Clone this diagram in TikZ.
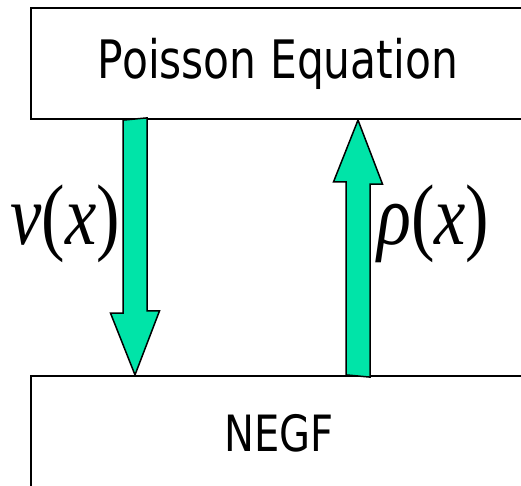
\documentclass[tikz,border=0pt]{standalone}
\usepackage{fontspec}
\usepackage{xcolor}
\usetikzlibrary{calc}
\newfontfamily\boxfont{DejaVu Sans}[FakeStretch=0.8]
\newfontfamily\lblfont{Liberation Serif}
\newcommand{\squeeze}[1]{\scalebox{0.82}[1]{#1}}
\definecolor{arrowgreen}{RGB}{0,228,168}

\begin{document}
\begin{tikzpicture}[x=1pt,y=-1pt,
box/.style={draw,line width=2.2pt,fill=white,inner sep=0pt,font=\boxfont\fontsize{53}{60}\selectfont},
fat/.style={draw,line width=1.5pt,line join=miter,fill=arrowgreen},
lbl/.style={inner sep=0pt,font=\lblfont\fontsize{86}{90}\selectfont}]
\useasboundingbox (0,0) rectangle (521,486);
\node[box,minimum width=494pt,minimum height=111pt] (poisson) at (278,63.5) {Poisson Equation};
\node[box,minimum width=496pt,minimum height=115pt,font=\boxfont\fontsize{50}{56}\selectfont] (negf) at (279,433.5) {NEGF};
\coordinate (vx) at (135,0);
\coordinate (rx) at (358,0);
% potential down, density up
\draw[fat] ($(poisson.south -| vx)+(-12,0)$) -- ++(0,193) -- ++(-12.5,0) -- (negf.north -| vx)
  -- ++(24.5,-64) -- ++(-12.5,0) -- ++(0,-193) -- cycle;
\draw[fat] ($(negf.north -| rx)+(-12,0)$) -- ++(0,-193) -- ++(-12.5,0) -- (poisson.south -| rx)
  -- ++(24.5,64) -- ++(-12.5,0) -- ++(0,193) -- cycle;
\node[lbl,anchor=base east] (vlabel) at (120,244) {\squeeze{\textit{v}(\textit{x})}};
\node[lbl,anchor=base west] (rholabel) at (377,244) {\squeeze{\textit{ρ}(\textit{x})}};
\end{tikzpicture}
\end{document}
